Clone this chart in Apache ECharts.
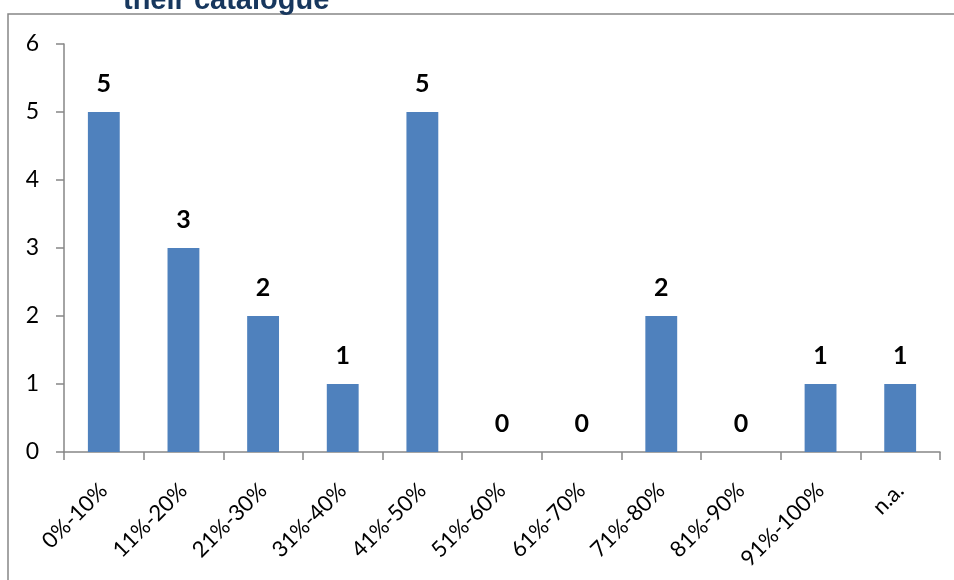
<!DOCTYPE html>
<html>
<head>
<meta charset="utf-8">
<script src="https://cdn.jsdelivr.net/npm/echarts@6/dist/echarts.min.js"></script>
<style>
html, body { margin: 0; padding: 0; background: #fff; }
#chart { width: 954px; height: 580px; }
</style>
</head>
<body>
<div id="chart"></div>
<script>
var categories = ['0%-10%', '11%-20%', '21%-30%', '31%-40%', '41%-50%', '51%-60%', '61%-70%', '71%-80%', '81%-90%', '91%-100%', 'n.a.'];
var counts = [5, 3, 2, 1, 5, 0, 0, 2, 0, 1, 1];
var yTicks = [0, 1, 2, 3, 4, 5, 6];
var titleText = 'their catalogue';

var chart = echarts.init(document.getElementById('chart'));
var font = 'Lato';
var option = {
    animation: false,
    backgroundColor: '#fff',
    graphic: [
        {
            type: 'rect',
            shape: { x: 8, y: 14, width: 960, height: 600 },
            style: { fill: 'none', stroke: '#868686', lineWidth: 1.5 }
        },
        {
            type: 'text',
            x: 123,
            y: 15,
            style: {
                text: titleText,
                font: 'bold 29px "Liberation Sans"',
                fill: '#17375E',
                verticalAlign: 'bottom'
            }
        }
    ],
    grid: {
        left: 64,
        right: 14,
        top: 44,
        bottom: 128,
        containLabel: false
    },
    xAxis: {
        type: 'category',
        data: categories,
        axisLine: { lineStyle: { color: '#868686', width: 1.5 } },
        axisTick: { show: true, length: 8, lineStyle: { color: '#868686', width: 1.5 } },
        axisLabel: {
            rotate: 45,
            interval: 0,
            margin: 35,
            color: '#000',
            fontSize: 22,
            fontFamily: font
        }
    },
    yAxis: {
        type: 'value',
        min: yTicks[0],
        max: yTicks[yTicks.length - 1],
        interval: 1,
        axisLine: { show: true, lineStyle: { color: '#868686', width: 1.5 } },
        axisTick: { show: true, length: 8, lineStyle: { color: '#868686', width: 1.5 } },
        splitLine: { show: false },
        axisLabel: {
            margin: 25,
            color: '#000',
            fontSize: 23,
            fontFamily: font
        }
    },
    series: [
        {
            type: 'bar',
            data: counts,
            barWidth: '40%',
            itemStyle: { color: '#4F81BD' },
            label: {
                show: true,
                position: 'top',
                distance: 16,
                color: '#000',
                fontWeight: 'bold',
                fontSize: 25,
                fontFamily: font
            }
        }
    ]
};
chart.setOption(option);
</script>
</body>
</html>
